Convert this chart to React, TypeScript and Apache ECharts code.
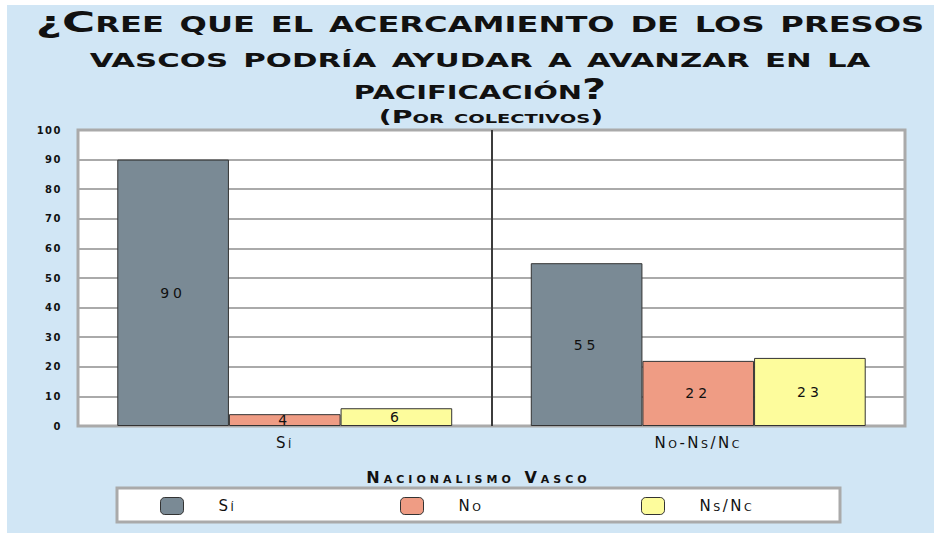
import React, { useEffect, useRef } from 'react';
import * as echarts from 'echarts';

const categories = ['Sí', 'No-Ns/Nc'];
const seriesNames = ['Sí', 'No', 'Ns/Nc'];
const siValues = [90, 55];
const noValues = [4, 22];
const nsncValues = [6, 23];
const titleLines = [
  '¿Cree que el acercamiento de los presos',
  'vascos podría ayudar a avanzar en la',
  'pacificación?',
];
const subtitle = '(Por colectivos)';
const axisName = 'Nacionalismo Vasco';
const colors = ['#7a8a95', '#ef9c84', '#fdfc9c'];

const FONT = '"DejaVu Sans", sans-serif';

const css = `
.chart-root text { font-variant: small-caps !important; }
.chart-root text[style*="10px"] { letter-spacing: 1.5px !important; }
.chart-root text[style*="14px"] { letter-spacing: 4px !important; }
.chart-root text[style*="15px"] { letter-spacing: 2.5px !important; }
.chart-root text[style*="16px"] { letter-spacing: 4px !important; }
`;

export default function App() {
  const ref = useRef<HTMLDivElement>(null);
  useEffect(() => {
    if (!ref.current) return;
    const chart = echarts.init(ref.current, undefined, { renderer: 'svg' });
    const allValues = [siValues, noValues, nsncValues];
    const titleY = [22, 57, 89];
    const titleScale = [1.56, 1.52, 1.43];
    const legendLeft = [160, 400, 641];
    chart.setOption({
      animation: false,
      graphic: [
        {
          type: 'rect',
          z: -10,
          silent: true,
          shape: { x: 7, y: 5, width: 927, height: 528 },
          style: { fill: '#d1e6f5' },
        },
        {
          type: 'rect',
          z: 0,
          silent: true,
          shape: { x: 117, y: 488, width: 723, height: 34 },
          style: { fill: '#ffffff', stroke: '#aaaaaa', lineWidth: 3 },
        },
        ...titleLines.map((t, i) => ({
          type: 'text',
          x: 480,
          y: titleY[i],
          scaleX: titleScale[i],
          silent: true,
          style: {
            text: t,
            fill: '#111',
            fontFamily: FONT,
            fontWeight: 'bold',
            fontSize: 29,
            align: 'center',
            verticalAlign: 'middle',
            textAlign: 'center',
            textVerticalAlign: 'middle',
          },
        })),
        {
          type: 'text',
          x: 491,
          y: 117,
          scaleX: 1.67,
          silent: true,
          style: {
            text: subtitle,
            fill: '#111',
            fontFamily: FONT,
            fontWeight: 'bold',
            fontSize: 17,
            align: 'center',
            verticalAlign: 'middle',
            textAlign: 'center',
            textVerticalAlign: 'middle',
          },
        },
      ],
      grid: {
        left: 78,
        top: 130,
        width: 827,
        height: 296,
        show: true,
        backgroundColor: '#ffffff',
        borderColor: '#aaaaaa',
        borderWidth: 3,
        containLabel: false,
      },
      legend: seriesNames.map((name, i) => ({
        left: legendLeft[i],
        top: 497,
        padding: 0,
        itemWidth: 23,
        itemHeight: 17,
        data: [name],
        selectedMode: false,
        itemStyle: { borderColor: '#333', borderWidth: 1 },
        textStyle: {
          fontFamily: FONT,
          fontSize: 15,
          color: '#111',
          padding: [0, 0, 0, 30],
        },
      })),
      xAxis: {
        type: 'category',
        data: categories,
        name: axisName,
        nameLocation: 'middle',
        nameGap: 43,
        nameTextStyle: {
          fontFamily: FONT,
          fontWeight: 'bold',
          fontSize: 16,
          color: '#111',
          padding: [0, 26, 0, 0],
        },
        axisLine: { show: false },
        axisTick: { show: false },
        axisLabel: {
          fontFamily: FONT,
          fontSize: 15,
          color: '#111',
          margin: 9,
        },
        splitLine: {
          show: true,
          interval: 0,
          lineStyle: { color: ['rgba(0,0,0,0)', '#3c3c3c'], width: 2 },
        },
      },
      yAxis: {
        type: 'value',
        min: 0,
        max: 100,
        interval: 10,
        axisLine: { show: false },
        axisTick: { show: false },
        axisLabel: {
          fontFamily: FONT,
          fontWeight: 'bold',
          fontSize: 10,
          color: '#111',
          margin: 16,
        },
        splitLine: { lineStyle: { color: '#aaaaaa', width: 2 } },
      },
      series: seriesNames.map((name, i) => ({
        name,
        type: 'bar',
        data: allValues[i],
        barGap: '0%',
        barCategoryGap: '19%',
        itemStyle: { color: colors[i], borderColor: '#333', borderWidth: 1 },
        label: {
          show: true,
          position: 'inside',
          fontFamily: FONT,
          fontSize: 14,
          color: '#111',
        },
      })),
    });
    return () => chart.dispose();
  }, []);
  return (
    <>
      <style>{css}</style>
      <div
        ref={ref}
        className="chart-root"
        style={{ position: 'absolute', left: 0, top: 0, width: 934, height: 533, background: '#ffffff' }}
      />
    </>
  );
}
